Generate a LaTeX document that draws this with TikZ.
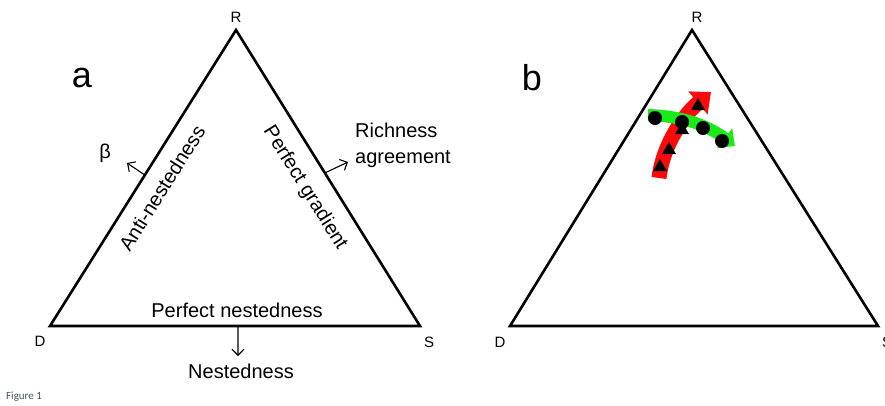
\documentclass[tikz,border=0pt]{standalone}
\usepackage{fontspec}
\setmainfont{Liberation Sans}
\newfontfamily\capfont{Carlito}
\usetikzlibrary{arrows.meta,calc,shapes.geometric,positioning}
\definecolor{CapGray}{RGB}{68,84,106}
\definecolor{BandGreen}{RGB}{25,235,25}
\definecolor{BandRed}{RGB}{250,10,10}
\tikzset{
  edge/.style={line width=2.6pt,line join=miter},
  dirarr/.style={-{Straight Barb[length=6pt,width=12pt]},line width=1.1pt},
  vlab/.style={font=\fontsize{15}{18}\selectfont,inner sep=0pt},
  axlab/.style={font=\fontsize{20}{24}\selectfont,inner sep=0pt},
  panel/.style={font=\fontsize{36}{40}\selectfont,inner sep=0pt},
}

\begin{document}
\begin{tikzpicture}[
  x=1pt, y=-1pt,
  gband/.style={BandGreen,line width=12pt,-{Triangle[length=13pt,width=24pt]}},
  rband/.style={BandRed,line width=15pt,-{Triangle[length=17pt,width=29pt]}},
  dot/.style={circle,fill=black,minimum size=14pt,inner sep=0pt},
  tri/.style={regular polygon,regular polygon sides=3,fill=black,minimum size=16pt,inner sep=0pt}
]
\useasboundingbox (0,0) rectangle (885,405);

% panel a
\coordinate (R) at (236,30);
\coordinate (D) at (50,326);
\coordinate (S) at (420,326);
\draw[edge] (D)--(R)--(S)--cycle;
\node[panel] (a) at (82,78) {a};
\node[vlab] (Ra) at (236,17) {R};
\node[vlab] (Da) at (40,341) {D};
\node[vlab] (Sa) at (429,342) {S};

\node[axlab,rotate=57.8] (anti) at (162,188) {Anti-nestedness};
\node[axlab,rotate=-58] (grad) at (305,188) {Perfect gradient};
\node[axlab] (pnest) at (237,310) {Perfect nestedness};

\coordinate (mDR) at ($(D)!0.51!(R)$);
\coordinate (mRS) at ($(R)!0.483!(S)$);
\coordinate (mDS) at ($(D)!0.508!(S)$);
\coordinate (tb) at (127,163);
\coordinate (tr) at (348,162);
\coordinate (tn) at (238,356);
\draw[dirarr] (mDR)--(tb);
\draw[dirarr] (mRS)--(tr);
\draw[dirarr] (mDS)--(tn);
\node[axlab] (beta) at (105,153) {β};
\node[axlab,anchor=west,align=left] (rich) at (355,145) {Richness\\[2pt]agreement};
\node[axlab] (nest) at (241,371) {Nestedness};

% panel b
\coordinate (R2) at (692,30);
\coordinate (D2) at (510,326);
\coordinate (S2) at (878,326);
\draw[edge] (D2)--(R2)--(S2)--cycle;
\node[panel] (b) at (532,78) {b};
\node[vlab] (Rb) at (697,17) {R};
\node[vlab] (Db) at (500,342) {D};
\node[vlab] (Sb) at (887,342) {S};

\draw[rband] (659,178) .. controls (662,150) and (680,118) .. (711,92);
\draw[gband] (648,115) .. controls (680,116) and (706,124) .. (735,146);

\node[tri] (t1) at (660,167) {};
\node[tri] (t2) at (669,150) {};
\node[tri] (t3) at (682,130) {};
\node[tri] (t4) at (698,106) {};
\node[dot] (c1) at (655,118) {};
\node[dot] (c2) at (682,122) {};
\node[dot] (c3) at (703,128) {};
\node[dot] (c4) at (722,141) {};

\node[font=\capfont\fontsize{11}{13}\selectfont,text=CapGray,anchor=west,inner sep=0pt] (cap) at (6,397) {Figure 1};
\end{tikzpicture}
\end{document}
